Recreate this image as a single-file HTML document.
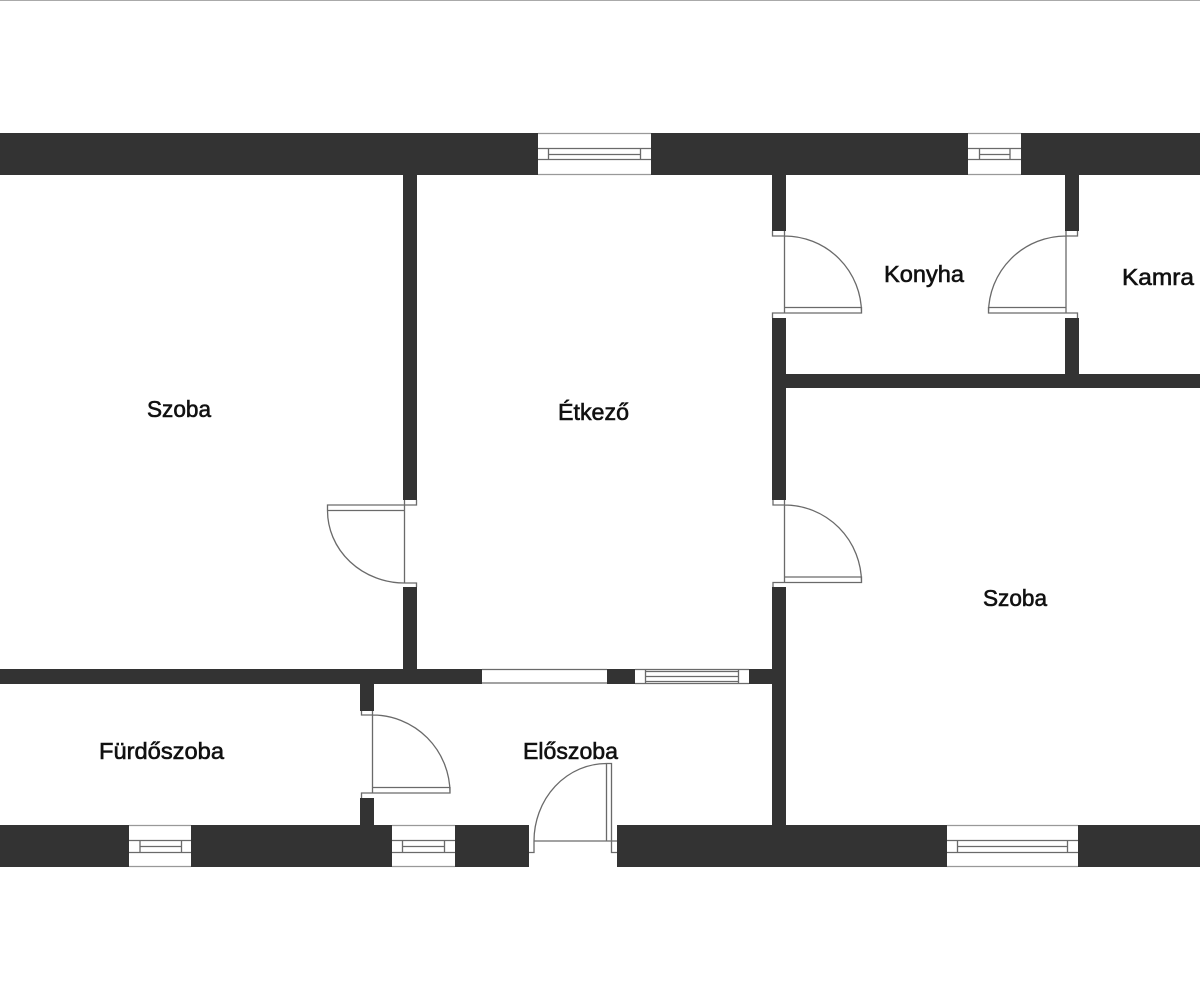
<!DOCTYPE html>
<html lang="hu">
<head>
<meta charset="utf-8">
<title>Alaprajz</title>
<style>
html,body{margin:0;padding:0;background:#fff;width:1200px;height:1000px;overflow:hidden}
svg{display:block}
text{font-family:"Liberation Sans",sans-serif;font-size:23px;fill:#111;stroke:#111;stroke-width:.6}
.l{fill:none;stroke:#6a6a6a;stroke-width:1.3}
.f{fill:none;stroke:#999;stroke-width:1.2}
</style>
</head>
<body>
<svg width="1200" height="1000" viewBox="0 0 1200 1000" xmlns="http://www.w3.org/2000/svg">
<rect width="1200" height="1000" fill="#fff"/>
<line x1="0" y1="0.5" x2="1200" y2="0.5" stroke="#aaa" stroke-width="1"/>

<!-- walls -->
<g fill="#333">
<rect x="0" y="133" width="538" height="42"/>
<rect x="651" y="133" width="317" height="42"/>
<rect x="1021" y="133" width="179" height="42"/>
<rect x="0" y="825" width="129" height="42"/>
<rect x="191" y="825" width="201" height="42"/>
<rect x="455" y="825" width="74" height="42"/>
<rect x="617" y="825" width="330" height="42"/>
<rect x="1078" y="825" width="122" height="42"/>
<rect x="403" y="175" width="14" height="325"/>
<rect x="403" y="587" width="14" height="83"/>
<rect x="0" y="669" width="482" height="15"/>
<rect x="607" y="669" width="28" height="15"/>
<rect x="749" y="669" width="23" height="15"/>
<rect x="772" y="175" width="14" height="56"/>
<rect x="772" y="318" width="14" height="182"/>
<rect x="772" y="587" width="14" height="238"/>
<rect x="786" y="374" width="414" height="14"/>
<rect x="1065" y="175" width="14" height="56"/>
<rect x="1065" y="318" width="14" height="56"/>
<rect x="360" y="684" width="14" height="27"/>
<rect x="360" y="798" width="14" height="27"/>
</g>

<!-- top windows -->
<g class="l">
<path class="f" d="M538 133.5H651M538 174.5H651"/>
<path d="M538 148.5H651M538 159.5H651M548.5 148.5H640.5M548.5 154.5H640.5M548.5 148.5V159.5M640.5 148.5V159.5"/>
<path class="f" d="M968 133.5H1021M968 174.5H1021"/>
<path d="M968 148.5H1021M968 159.5H1021M979.5 154.5H1010M979.5 148.5V159.5M1010 148.5V159.5"/>
</g>

<!-- bottom windows -->
<g class="l">
<path class="f" d="M129 825.5H191M129 866.5H191"/>
<path d="M129 840.5H191M129 852.5H191M140 846.5H181.5M140 840.5V852.5M181.5 840.5V852.5"/>
<path class="f" d="M392 825.5H455M392 866.5H455"/>
<path d="M392 840.5H455M392 852.5H455M402.5 846.5H444.5M402.5 840.5V852.5M444.5 840.5V852.5"/>
<path class="f" d="M947 825.5H1078M947 866.5H1078"/>
<path d="M947 840.5H1078M947 852.5H1078M957.5 846.5H1067.5M957.5 840.5V852.5M1067.5 840.5V852.5"/>
</g>

<!-- interior windows -->
<g class="l">
<path d="M482 669.5H607M482 683H607"/>
<path d="M635 669.5H749M635 683.5H749M645.5 671.5H738.5M645.5 676.5H738.5M645.5 681.5H738.5M645.5 669.5V683.5M738.5 669.5V683.5"/>
</g>

<!-- doors -->
<g class="l">
<!-- kitchen left -->
<path d="M772.5 231V236H784.5M772.5 318V313H784.5M784.5 231V313M784.5 307.5H861.5V313H784.5M784.5 236A77 77 0 0 1 861.5 313"/>
<!-- kitchen right -->
<path d="M1077.5 231V236H1066M1077.5 318V313H1066M1066 231V313M1066 307.5H988.5V313H1066M1066 236A77.5 77 0 0 0 988.5 313"/>
<!-- dining to room right -->
<path d="M773 500V505H784.5M773 587V582.5H784.5M784.5 500V582.5M784.5 577H861.5V582.5H784.5M784.5 505A77 77.5 0 0 1 861.5 582.5"/>
<!-- room left -->
<path d="M416.5 500V505H404.5M416.5 587V583H404.5M404.5 500V583M404.5 505H327.5V510.5H404.5M327.5 510.5A77 72.5 0 0 0 404.5 583"/>
<!-- bath -->
<path d="M361.5 711V715H372.5M361.5 798V793H372.5M372.5 711V793M372.5 787.5H450V793H372.5M372.5 715A77.5 78 0 0 1 450 793"/>
<!-- entrance -->
<path d="M529 852.5H534V841M534 841H617M606.5 763.5H611.5V852.5H617M606.5 763.5V841M534 841A72.5 77.5 0 0 1 606.5 763.5"/>
</g>

<!-- labels -->
<text x="147" y="417" textLength="64" lengthAdjust="spacingAndGlyphs">Szoba</text>
<text x="558" y="420" textLength="71" lengthAdjust="spacingAndGlyphs">Étkező</text>
<text x="884" y="282" textLength="80" lengthAdjust="spacingAndGlyphs">Konyha</text>
<text x="1122" y="285" textLength="72" lengthAdjust="spacingAndGlyphs">Kamra</text>
<text x="983" y="606" textLength="64" lengthAdjust="spacingAndGlyphs">Szoba</text>
<text x="99" y="759" textLength="125" lengthAdjust="spacingAndGlyphs">Fürdőszoba</text>
<text x="523" y="759" textLength="95" lengthAdjust="spacingAndGlyphs">Előszoba</text>
</svg>
</body>
</html>
